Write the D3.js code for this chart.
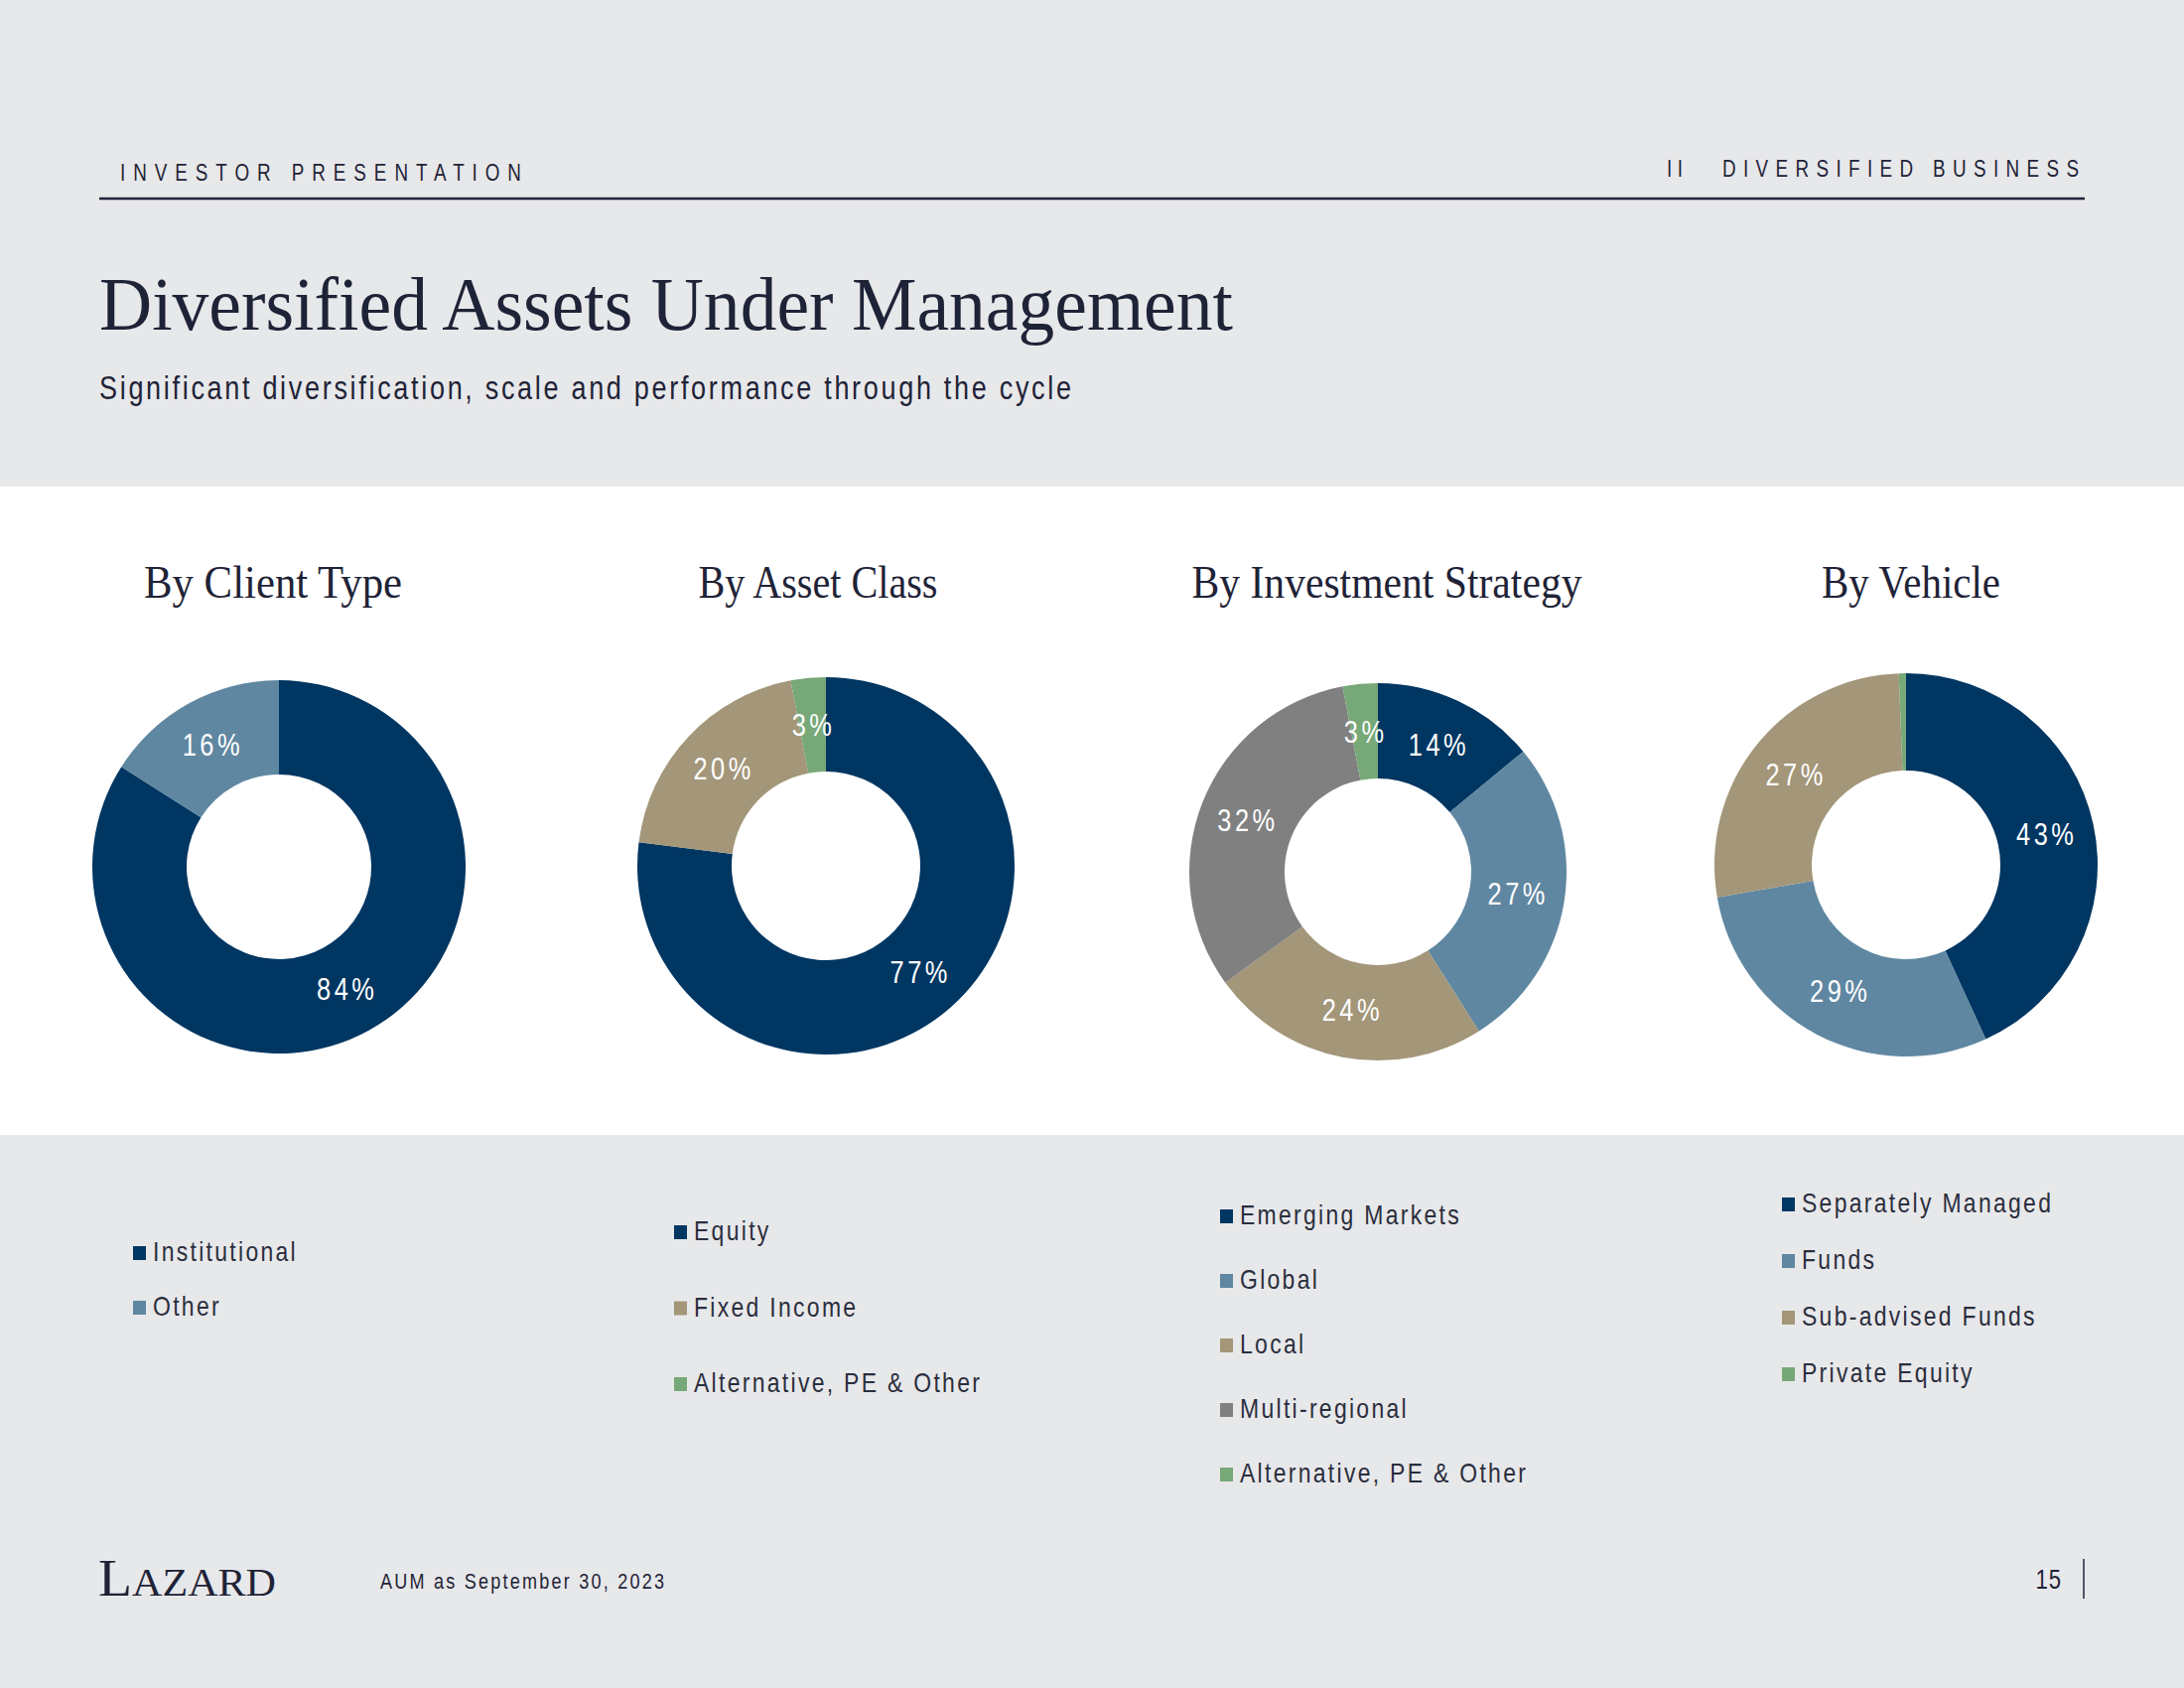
<!DOCTYPE html>
<html><head><meta charset="utf-8">
<script src="https://cdn.jsdelivr.net/npm/d3@7"></script>
<style>
body{margin:0;background:#e7e8ea;}
svg{display:block;}
</style>
</head><body>
<svg id="c" width="2200" height="1700"></svg>
<script>
// ---------------- DATA ----------------
const chartTitles = ["By Client Type", "By Asset Class", "By Investment Strategy", "By Vehicle"];
const clientCategories = ["Institutional", "Other"];
const clientValues = [84, 16];
const assetCategories = ["Equity", "Fixed Income", "Alternative, PE & Other"];
const assetValues = [77, 20, 3];
const strategyCategories = ["Emerging Markets", "Global", "Local", "Multi-regional", "Alternative, PE & Other"];
const strategyValues = [14, 27, 24, 32, 3];
const vehicleCategories = ["Separately Managed", "Funds", "Sub-advised Funds", "Private Equity"];
const vehicleValues = [43, 29, 27, 0.6];
const headerLeft = "INVESTOR PRESENTATION";
const headerSection = "II";
const headerRight = "DIVERSIFIED BUSINESS";
const pageTitle = "Diversified Assets Under Management";
const pageSubtitle = "Significant diversification, scale and performance through the cycle";
const footnote = "AUM as September 30, 2023";
const pageNumber = "15";

// ---------------- STYLE ----------------
const C = {
  bg: "#e7e8ea", band: "#ffffff", ink: "#1f2337", legendInk: "#2b2e3d",
  navy: "#003662", steel: "#5f87a1", tan: "#a39679", gray: "#808080", green: "#77a878"
};
const serif = "'Liberation Serif', 'Times New Roman', serif";
const sans = "'Liberation Sans Narrow', 'Arial Narrow', 'Liberation Sans', Arial, sans-serif";
const SX = 0.82; // horizontal condensing to imitate a narrow face

// helper: condensed text; width (if given) is the final on-screen width
function narrowText(parent, x, y, str, size, o = {}) {
  const g = parent.append("g").attr("transform", `translate(${x},${y}) scale(${SX},1)`);
  const t = g.append("text").attr("x", 0).attr("y", 0).text(str)
    .attr("font-family", sans).attr("font-size", size)
    .attr("fill", o.fill || C.ink)
    .attr("text-anchor", o.anchor || "start");
  if (o.ls != null) t.attr("letter-spacing", o.ls / SX);
  if (o.width != null) t.attr("textLength", o.width / SX).attr("lengthAdjust", "spacing");
  return t;
}

const panels = [
  {title: chartTitles[0], cats: clientCategories, vals: clientValues,
   colors: [C.navy, C.steel], cx: 281, cy: 873, R: 188, r: 93,
   tx: 275, tw: 260, lx: 134, ly: [1262, 1317]},
  {title: chartTitles[1], cats: assetCategories, vals: assetValues,
   colors: [C.navy, C.tan, C.green], cx: 832, cy: 872, R: 190, r: 95,
   tx: 824, tw: 241, lx: 679, ly: [1241, 1394]},
  {title: chartTitles[2], cats: strategyCategories, vals: strategyValues,
   colors: [C.navy, C.steel, C.tan, C.gray, C.green], cx: 1388, cy: 878, R: 190, r: 94,
   tx: 1397, tw: 393, lx: 1229, ly: [1225, 1485]},
  {title: chartTitles[3], cats: vehicleCategories, vals: vehicleValues,
   colors: [C.navy, C.steel, C.tan, C.green], cx: 1920, cy: 871, R: 193, r: 95,
   tx: 1925, tw: 180, lx: 1795, ly: [1213, 1384]}
];

const svg = d3.select("#c");
svg.append("rect").attr("width", 2200).attr("height", 1700).attr("fill", C.bg);
svg.append("rect").attr("x", 0).attr("y", 490).attr("width", 2200).attr("height", 653).attr("fill", C.band);

// ---------------- HEADER ----------------
narrowText(svg, 121, 182, headerLeft, 23, {width: 404});
narrowText(svg, 1679, 178, headerSection, 23, {width: 16});
narrowText(svg, 1735, 178, headerRight, 23, {width: 359});
svg.append("line").attr("x1", 100).attr("x2", 2100).attr("y1", 200).attr("y2", 200)
  .attr("stroke", C.ink).attr("stroke-width", 2.5);

svg.append("text").attr("x", 100).attr("y", 332).text(pageTitle)
  .attr("font-family", serif).attr("font-size", 76).attr("fill", C.ink)
  .attr("textLength", 1142).attr("lengthAdjust", "spacingAndGlyphs");
narrowText(svg, 100, 402, pageSubtitle, 33, {width: 979});

// ---------------- DONUTS ----------------
const pie = d3.pie().sort(null).value(d => d);
panels.forEach(p => {
  const g = svg.append("g");
  g.append("text").attr("x", p.tx).attr("y", 602).attr("text-anchor", "middle")
    .text(p.title).attr("font-family", serif).attr("font-size", 46).attr("fill", C.ink)
    .attr("textLength", p.tw).attr("lengthAdjust", "spacingAndGlyphs");

  const color = d3.scaleOrdinal().domain(p.cats).range(p.colors);
  const arc = d3.arc().innerRadius(p.r).outerRadius(p.R);
  const arcs = pie(p.vals).map((a, i) => Object.assign(a, {cat: p.cats[i]}));
  const dg = g.append("g").attr("transform", `translate(${p.cx},${p.cy})`);
  dg.selectAll("path").data(arcs).join("path")
    .attr("d", arc).attr("fill", d => color(d.cat));
  arcs.filter(d => d.data >= 1).forEach(d => {
    const c = arc.centroid(d);
    narrowText(dg, c[0] + 1, c[1] + 11, Math.round(d.data) + "%", 31,
      {anchor: "middle", ls: 3.5, fill: "#ffffff"});
  });

  // legend
  const ly = d3.scalePoint().domain(p.cats).range(p.ly);
  const items = g.append("g").selectAll("g").data(p.cats).join("g")
    .attr("transform", d => `translate(${p.lx},${ly(d)})`);
  items.append("rect").attr("x", 0).attr("y", -7).attr("width", 13).attr("height", 14)
    .attr("fill", d => color(d));
  items.each(function (d) {
    narrowText(d3.select(this), 20, 8, d, 28, {ls: 2.3, fill: C.legendInk});
  });
});

// ---------------- FOOTER ----------------
const lz = svg.append("text").attr("x", 99).attr("y", 1607)
  .attr("font-family", serif).attr("fill", C.ink)
  .attr("textLength", 179).attr("lengthAdjust", "spacingAndGlyphs");
lz.append("tspan").attr("font-size", 53).text("L");
lz.append("tspan").attr("font-size", 40).text("AZARD");
narrowText(svg, 383, 1600, footnote, 22, {width: 286});
narrowText(svg, 2077, 1600, pageNumber, 27, {anchor: "end", ls: 1});
svg.append("line").attr("x1", 2099).attr("x2", 2099).attr("y1", 1570).attr("y2", 1610)
  .attr("stroke", C.ink).attr("stroke-width", 1.5);
</script>
</body></html>
